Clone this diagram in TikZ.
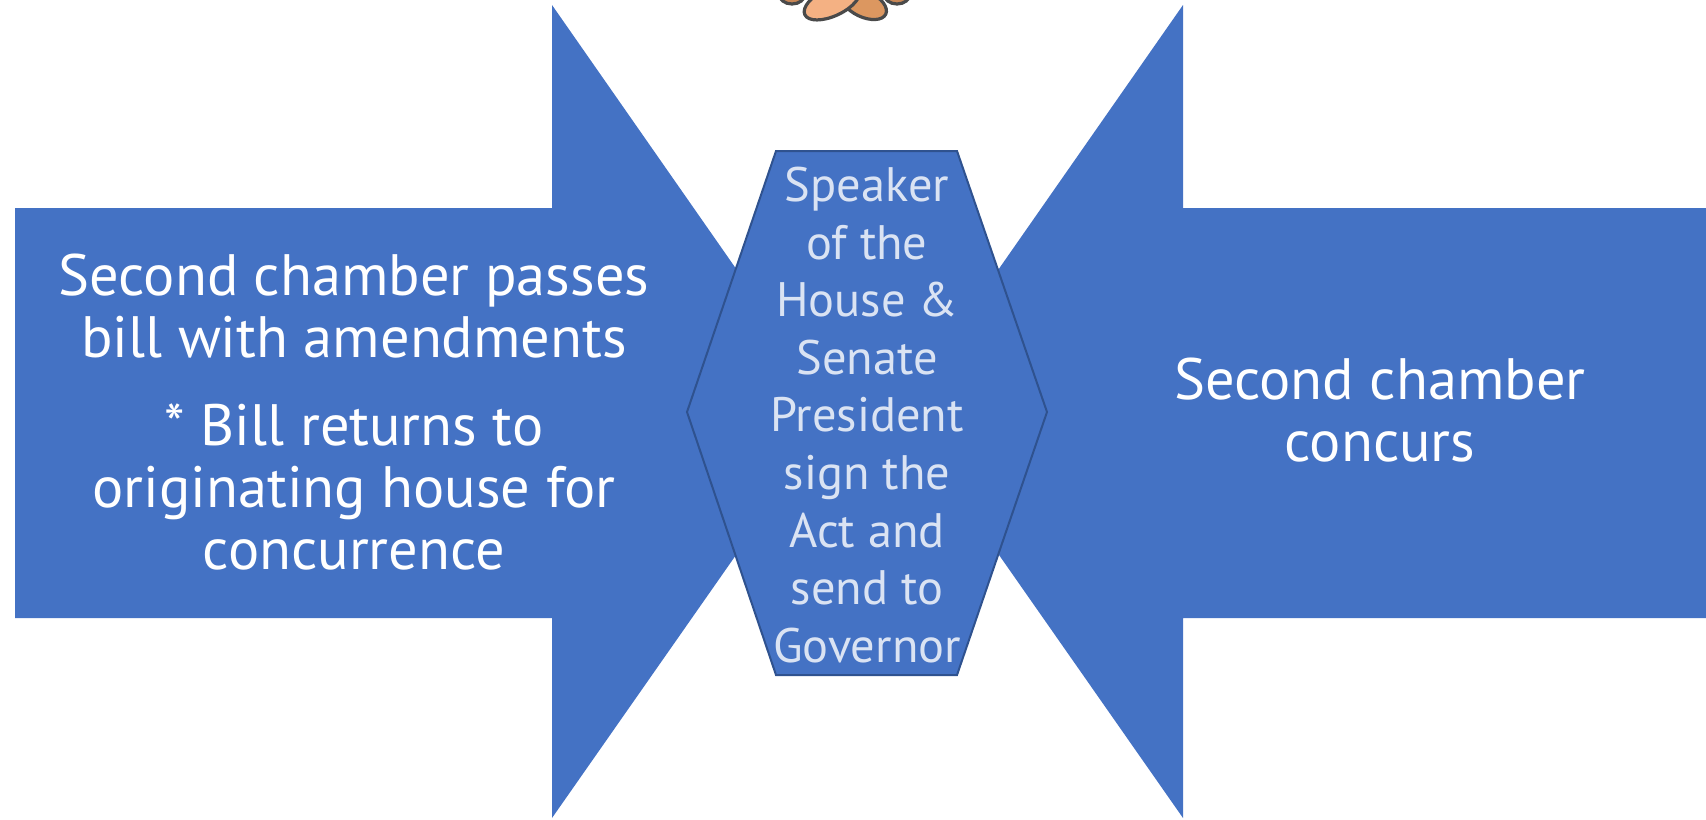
\documentclass[tikz,border=0pt]{standalone}
\usepackage{fontspec}
\setmainfont{PT Sans}
\usetikzlibrary{positioning}

\definecolor{slideblue}{HTML}{4472C4}
\definecolor{slideedge}{HTML}{2F528F}
\definecolor{paleblue}{HTML}{DAE3F3}
\definecolor{handlight}{HTML}{F4B183}
\definecolor{handdark}{HTML}{DC9760}
\definecolor{handlobe}{HTML}{C98756}
\definecolor{handline}{HTML}{4A4A4A}

\begin{document}
\begin{tikzpicture}[x=0.5pt,y=-0.5pt,
		arrowtext/.style={text=white, align=center, font=\fontsize{29.2}{31}\selectfont},
		hextext/.style={text=paleblue, align=center, font=\fontsize{24.2}{28.8}\selectfont},
		hand/.style={draw=handline, line width=1.6pt}]
	\useasboundingbox (0,0) rectangle (1706,819);

	% the two big arrows pointing in
	\fill[slideblue] (15,208) -- (552,208) -- (552,5) -- (836,412)
		-- (552,818) -- (552,618) -- (15,618) -- cycle;
	\fill[slideblue] (1720,208) -- (1183,208) -- (1183,5) -- (899,412)
		-- (1183,818) -- (1183,618) -- (1720,618) -- cycle;

	% hexagon in the middle
	\draw[fill=slideblue, draw=slideedge, line width=1pt]
		(776,151) -- (957,151) -- (1047,412) -- (957,675)
		-- (776,675) -- (687,412) -- cycle;

	% bit of the icon cut off at the top
	\begin{scope}
		\clip (0,0) rectangle (1706,819);
		\draw[hand, fill=handlobe] (792,-6) ellipse [x radius=13, y radius=10];
		\draw[hand, fill=handlobe] (897,-6) ellipse [x radius=13, y radius=10];
		\draw[hand, fill=handdark, rotate around={-25:(864,4)}] (864,4) ellipse [x radius=24, y radius=13];
		\draw[hand, fill=handlight, rotate around={25:(832,2)}] (832,2) ellipse [x radius=30, y radius=14];
	\end{scope}

	\draw
		(354,412) node [arrowtext] (passes) {Second chamber passes\\bill with amendments\\[13pt]
			* Bill returns to\\originating house for\\concurrence}
		(1380,410) node [arrowtext] (concurs) {Second chamber\\concurs}
		(867,415) node [hextext] (sign) {Speaker\\of the\\House \&\\Senate\\President\\sign the\\Act and\\send to\\Governor}
		;
\end{tikzpicture}
\end{document}
